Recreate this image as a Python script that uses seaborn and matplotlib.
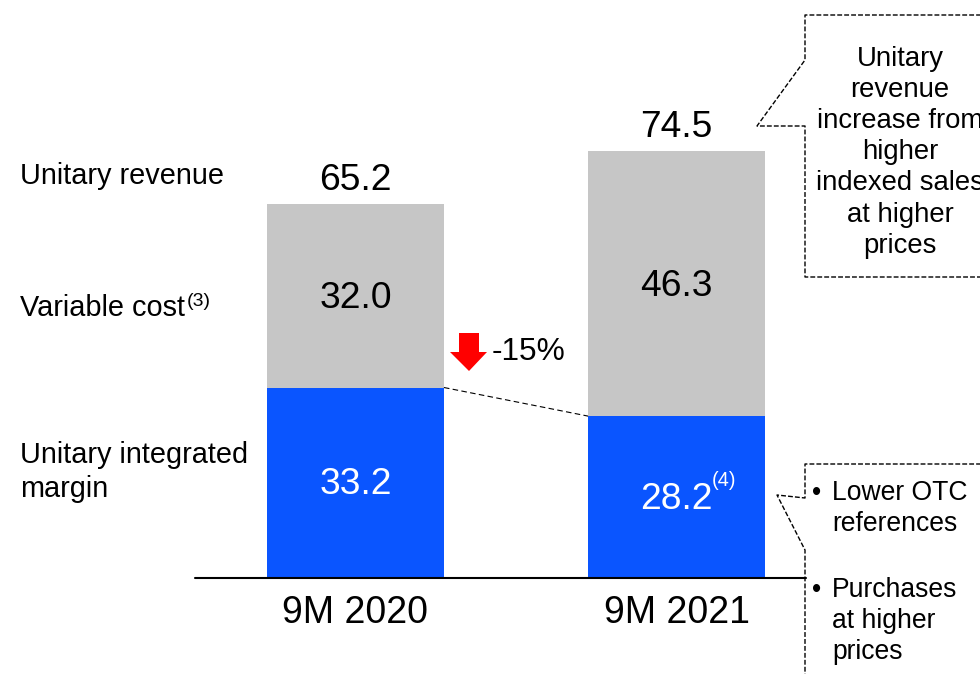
import matplotlib
matplotlib.use("Agg")
import matplotlib.pyplot as plt
import seaborn as sns
import pandas as pd
from matplotlib.lines import Line2D
from matplotlib.patches import Polygon

# ---- data -------------------------------------------------------------
periods = ["9M 2020", "9M 2021"]
unitary_revenue = [65.2, 74.5]
variable_cost = [32.0, 46.3]
integrated_margin = [33.2, 28.2]
margin_notes = ["", "(4)"]
change_label = "-15%"
row_labels = ["Unitary revenue", "Variable cost", "Unitary integrated\nmargin"]
cost_note = "(3)"
revenue_note = ["Unitary", "revenue", "increase from", "higher",
                "indexed sales", "at higher", "prices"]
margin_bullets = [["Lower OTC", "references"], ["Purchases", "at higher", "prices"]]

# ---- canvas -----------------------------------------------------------
W, H = 980, 674
sns.set_theme(style="white")
plt.rcParams["font.family"] = ["Liberation Sans", "DejaVu Sans"]
plt.rcParams["text.color"] = "black"

fig = plt.figure(figsize=(W / 100, H / 100), dpi=100)
ax = fig.add_axes([0, 0, 1, 1])

GRAY = "#C6C6C6"
BLUE = "#0A55FF"
BAR_W = 0.551

df = pd.DataFrame({"period": periods, "revenue": unitary_revenue,
                   "cost": variable_cost, "margin": integrated_margin})

# full bar = unitary revenue (gray), lower part = integrated margin (blue)
sns.barplot(data=df, x="period", y="revenue", color=GRAY, width=BAR_W,
            saturation=1, errorbar=None, linewidth=0, ax=ax)
sns.barplot(data=df, x="period", y="margin", color=BLUE, width=BAR_W,
            saturation=1, errorbar=None, linewidth=0, ax=ax)

STEP = 321.0          # pixels between category centres
X0 = 355.5            # pixel position of first category
PPU = 190 / 33.2      # pixels per unit on value axis
YB = 577.5            # pixel row of the baseline
ax.set_xlim(-X0 / STEP, (W - X0) / STEP)
ax.set_ylim(-(H - YB) / PPU, YB / PPU)
ax.axis("off")


def fp(x, y):
    """pixel position (from top-left) -> figure fraction"""
    return x / W, 1 - y / H


FS_VAL = 26.8
for i, (rev, cost, mar, note) in enumerate(zip(unitary_revenue, variable_cost,
                                               integrated_margin, margin_notes)):
    ax.annotate(f"{rev:.1f}", (i, rev), xytext=(0, 14.5), textcoords="offset pixels",
                ha="center", va="baseline", fontsize=FS_VAL, color="black")
    ax.annotate(f"{cost:.1f}", (i, mar + cost / 2), xytext=(0, -12),
                textcoords="offset pixels", ha="center", va="baseline",
                fontsize=FS_VAL, color="black")
    ax.annotate(f"{mar:.1f}", (i, mar / 2), xytext=(0, -12),
                textcoords="offset pixels", ha="center", va="baseline",
                fontsize=FS_VAL, color="white")
    if note:
        ax.annotate(note, (i, mar / 2), xytext=(35, 11),
                    textcoords="offset pixels", ha="left", va="baseline",
                    fontsize=14.5, color="white")
    ax.annotate(periods[i], (i, 0), xytext=(0, -45.5), textcoords="offset pixels",
                ha="center", va="baseline", fontsize=27, color="black")

# connector between the two margin tops
ax.plot([BAR_W / 2, 1 - BAR_W / 2], integrated_margin, color="black", lw=0.8,
        linestyle=(0, (5, 3)))

# baseline
fig.add_artist(Line2D([fp(195, 0)[0], fp(806, 0)[0]], [fp(0, 578)[1]] * 2,
                      transform=fig.transFigure, color="black", lw=1.5))

# row labels on the left
FS_LAB = 20.8
renderer = fig.canvas.get_renderer()
fig.text(*fp(20, 184), row_labels[0], fontsize=FS_LAB, va="baseline")
cost_txt = fig.text(*fp(20, 316), row_labels[1], fontsize=FS_LAB, va="baseline")
x_end = cost_txt.get_window_extent(renderer).x1
fig.text(x_end / W + 2 / W, fp(0, 306)[1], cost_note, fontsize=14, va="baseline")
l1, l2 = row_labels[2].split("\n")
fig.text(*fp(20, 463), l1, fontsize=FS_LAB, va="baseline")
fig.text(*fp(20, 497), l2, fontsize=FS_LAB, va="baseline")

# red down arrow and change label
arrow_px = [(459, 333), (479, 333), (479, 352), (487, 352), (469, 371),
            (450, 352), (459, 352)]
fig.add_artist(Polygon([fp(x, y) for x, y in arrow_px], closed=True,
                       transform=fig.transFigure, color="#FF0000", lw=0))
fig.text(*fp(492, 360), change_label, fontsize=22.8, va="baseline")

# callout boxes
DASH = (0, (3.5, 1.5))


def dashed(points):
    xs, ys = zip(*[fp(x, y) for x, y in points])
    fig.add_artist(Line2D(xs, ys, transform=fig.transFigure, color="black",
                          lw=1.0, linestyle=DASH))


dashed([(1000, 15), (805, 15), (805, 60), (757, 126), (805, 126), (805, 277),
        (1000, 277)])
FS_NOTE = 19.8
for k, line in enumerate(revenue_note):
    fig.text(*fp(900, 66 + k * 31.1), line, fontsize=FS_NOTE, ha="center",
             va="baseline")

dashed([(1000, 464), (805, 464), (805, 498), (777, 495), (805, 550), (805, 700)])
FS_BUL = 19.1
y = 500
for group in margin_bullets:
    fig.text(*fp(812, y), "\u2022", fontsize=FS_BUL, va="baseline")
    for line in group:
        fig.text(*fp(832, y), line, fontsize=FS_BUL, va="baseline")
        y += 31
    y += 35

fig.savefig("out.png", dpi=100)
